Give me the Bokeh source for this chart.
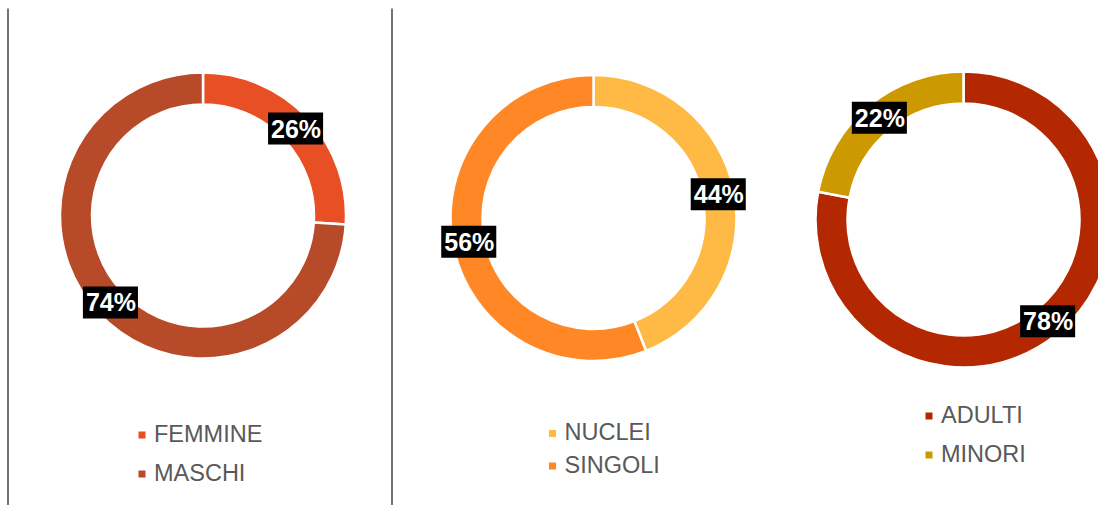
import math
from bokeh.plotting import figure
from bokeh.models import Range1d, ColumnDataSource
from bokeh.core.properties import value
from bokeh.embed import file_html
from bokeh.resources import INLINE

# ---- data ----
sex_labels = ["FEMMINE", "MASCHI"]
sex_values = [26, 74]
hh_labels = ["NUCLEI", "SINGOLI"]
hh_values = [44, 56]
age_labels = ["ADULTI", "MINORI"]
age_values = [78, 22]

sex_colors = ["#E94F24", "#B74A28"]
hh_colors = ["#FFBA45", "#FF8726"]
age_colors = ["#B32800", "#CC9900"]

W, H = 1098, 505
FONT = "Liberation Sans"

p = figure(width=W, height=H, x_range=Range1d(0, W), y_range=Range1d(0, H),
           output_backend="svg", toolbar_location=None,
           x_axis_location=None, y_axis_location=None, min_border=0)
p.grid.visible = False
p.outline_line_color = None
p.background_fill_color = "white"
p.border_fill_color = "white"


def Y(py):
    return H - py


# separator lines
p.segment(x0=[7.5, 391.5], y0=[0, 0], x1=[7.5, 391.5], y1=[Y(8), Y(8)],
          line_color="black", line_width=1.1)


def donut(cx, cy, r_in, r_out, labels, values, colors, legend_x, legend_ys):
    total = sum(values)
    starts, ends, mids = [], [], []
    cum = 0.0
    for v in values:
        a0 = math.pi / 2 - 2 * math.pi * cum / total
        cum += v
        a1 = math.pi / 2 - 2 * math.pi * cum / total
        starts.append(a0)
        ends.append(a1)
        mids.append((a0 + a1) / 2)
    src = ColumnDataSource(dict(start=starts, end=ends, color=colors))
    p.annular_wedge(x=cx, y=Y(cy), inner_radius=r_in, outer_radius=r_out,
                    start_angle="start", end_angle="end", direction="clock",
                    fill_color="color", line_color="white", line_width=2.5,
                    source=src)
    rm = (r_in + r_out) / 2
    lx = [cx + rm * math.cos(m) for m in mids]
    ly = [Y(cy) + rm * math.sin(m) for m in mids]
    p.text(x=lx, y=ly, text=[f"{v}%" for v in values], text_color="white",
           text_font=value(FONT), text_font_style="bold", text_font_size="25px",
           text_align="center", text_baseline="middle",
           background_fill_color="black", padding=(3, 2, 2, 2))
    # legend
    p.scatter(x=[legend_x] * len(labels), y=[Y(y + 1.5) for y in legend_ys],
              marker="square", size=7, fill_color=colors, line_color=None)
    p.text(x=[legend_x + 12] * len(labels), y=[Y(y) for y in legend_ys],
           text=labels, text_color="#595959", text_font=value(FONT),
           text_font_size="23.5px", text_align="left", text_baseline="middle")


donut(202.5, 215, 111, 143, sex_labels, sex_values, sex_colors, 141.5, [433, 472])
donut(593, 217.5, 111, 143, hh_labels, hh_values, hh_colors, 552, [431.5, 464])
donut(963, 219, 116, 148, age_labels, age_values, age_colors, 928.5, [414, 453])

open("out.html", "w").write(file_html(p, INLINE))
